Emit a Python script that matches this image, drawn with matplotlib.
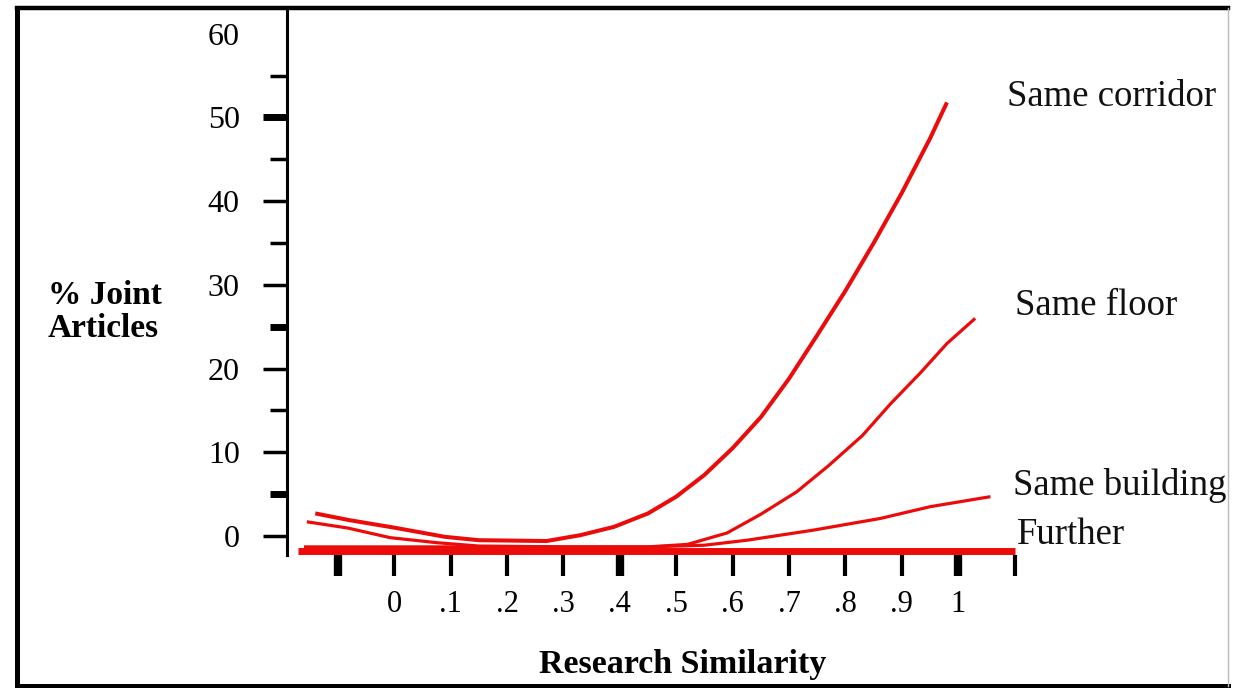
import numpy as np
import matplotlib
matplotlib.use("Agg")
import matplotlib.pyplot as plt
from matplotlib.lines import Line2D

# values (x = research similarity, y = % joint articles)
CORRIDOR_X = [-0.14, -0.08, 0.0, 0.09, 0.15, 0.27, 0.33, 0.39, 0.45, 0.50,
              0.55, 0.60, 0.65, 0.70, 0.75, 0.80, 0.85, 0.90, 0.95, 0.98]
CORRIDOR_Y = [2.7, 1.9, 1.0, -0.1, -0.5, -0.6, 0.1, 1.1, 2.7, 4.7,
              7.3, 10.5, 14.2, 18.8, 24.0, 29.3, 35.0, 41.0, 47.5, 51.8]

FLOOR_X = [-0.155, -0.083, -0.007, 0.076, 0.15, 0.30, 0.45, 0.52, 0.59, 0.65,
           0.714, 0.77, 0.83, 0.88, 0.933, 0.98, 1.03]
FLOOR_Y = [1.7, 0.96, -0.2, -0.8, -1.2, -1.3, -1.3, -1.0, 0.36, 2.6,
           5.3, 8.4, 12.0, 15.8, 19.5, 23.0, 26.0]

BUILDING_X = [-0.16, 0.20, 0.45, 0.55, 0.626, 0.743, 0.862, 0.95, 1.057]
BUILDING_Y = [-1.3, -1.3, -1.3, -1.1, -0.5, 0.7, 2.1, 3.5, 4.7]

FURTHER_X = [-0.17, 1.10]
FURTHER_Y = [-1.8, -1.8]

SERIES = ["Same corridor", "Same floor", "Same building", "Further"]

X_TICKS = [-0.1, 0.0, 0.1, 0.2, 0.3, 0.4, 0.5, 0.6, 0.7, 0.8, 0.9, 1.0, 1.1]
X_TICK_LABELS = ["", "0", ".1", ".2", ".3", ".4", ".5", ".6", ".7", ".8", ".9", "1", ""]
Y_TICKS = [0, 10, 20, 30, 40, 50, 60]
Y_MINOR = [5, 15, 25, 35, 45, 55]

RED = "#ec0b0b"
FONT = "Liberation Serif"


def main():
    fig = plt.figure(figsize=(12.33, 6.88), dpi=100, facecolor="white")
    ax = fig.add_axes([0.2328, 0.1933, 0.613, 0.7951])
    ax.set_xlim(-0.19, 1.15)
    ax.set_ylim(-2.27, 63.08)

    curves = [
        (CORRIDOR_X, CORRIDOR_Y, 2.9, (43, 4)),
        (FLOOR_X, FLOOR_Y, 2.3, (29, 9)),
        (BUILDING_X, BUILDING_Y, 2.3, (16, 8)),
        (FURTHER_X, FURTHER_Y, 5.0, (2, 12)),
    ]
    for name, (xs, ys, lw, off) in zip(SERIES, curves):
        ax.plot(xs, ys, color=RED, lw=lw, solid_capstyle="butt", clip_on=False)
        ax.annotate(name, xy=(xs[-1], ys[-1]), xytext=off, textcoords="offset points",
                    ha="left", va="center", fontsize=26.5, family=FONT, color="#111",
                    annotation_clip=False)

    # axes styling: only the left spine
    for side in ["top", "right", "bottom"]:
        ax.spines[side].set_visible(False)
    ax.spines["left"].set_linewidth(2.2)

    ax.set_xticks(X_TICKS)
    ax.set_xticklabels(X_TICK_LABELS, family=FONT, fontsize=22)
    ax.tick_params(axis="x", direction="out", length=15, width=3, pad=10, color="black")
    for t, v in zip(ax.xaxis.get_major_ticks(), X_TICKS):
        if round(v, 1) in (-0.1, 0.4, 1.0):
            t.tick1line.set_markeredgewidth(6)

    ax.set_yticks(Y_TICKS)
    ax.set_yticklabels([str(v) for v in Y_TICKS], family=FONT, fontsize=23)
    ax.set_yticks(Y_MINOR, minor=True)
    ax.tick_params(axis="y", which="major", direction="out", length=17, width=2.5, pad=17)
    ax.tick_params(axis="y", which="minor", direction="out", length=12, width=2.5)
    ax.yaxis.get_major_ticks()[-1].tick1line.set_visible(False)
    for t, v in zip(ax.yaxis.get_major_ticks(), Y_TICKS):
        if v == 50:
            t.tick1line.set_markeredgewidth(5)
    for t, v in zip(ax.yaxis.get_minor_ticks(), Y_MINOR):
        if v in (5, 25):
            t.tick1line.set_markeredgewidth(5)

    fig.text(683 / 1233, 1 - 665 / 688, "Research Similarity", ha="center", va="center",
             fontsize=24.5, fontweight="bold", family=FONT)
    fig.text(48 / 1233, 1 - 312 / 688, "% Joint\nArticles", ha="left", va="center",
             fontsize=24, fontweight="bold", family=FONT, linespacing=1.1)

    # scanned frame around the figure
    frame = [
        ((0.0134, 0.0134), (0.0036, 0.989), "black", 3.6),
        ((0.0134, 0.9963), (0.989, 0.989), "black", 3.2),
        ((0.0134, 0.9963), (0.0036, 0.0036), "black", 3.6),
        ((0.9963, 0.9963), (0.0036, 0.989), "#bbbbbb", 1.0),
    ]
    for xs, ys, c, lw in frame:
        fig.add_artist(Line2D(xs, ys, color=c, lw=lw, transform=fig.transFigure))

    fig.savefig("out.png", dpi=100, facecolor="white")


if __name__ == "__main__":
    main()
